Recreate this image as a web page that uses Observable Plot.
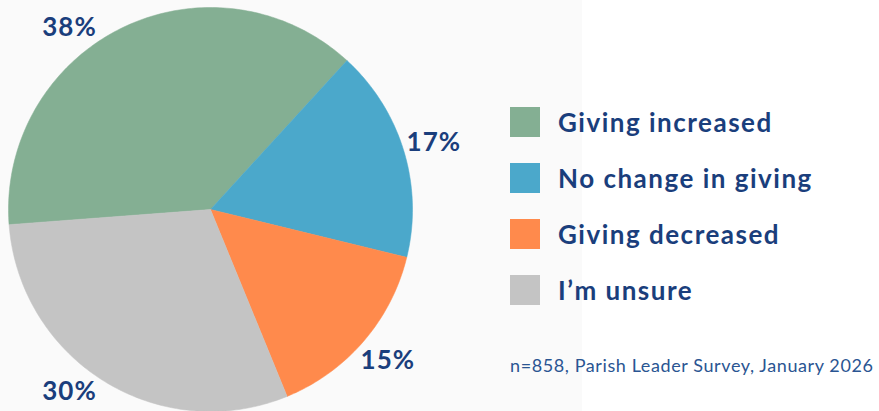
<!DOCTYPE html>
<html>
<head>
<meta charset="utf-8">
<script src="https://cdn.jsdelivr.net/npm/d3@7"></script>
<script src="https://cdn.jsdelivr.net/npm/@observablehq/plot@0.6"></script>
<style>
  html, body { margin: 0; padding: 0; background: #ffffff; }
  #wrap { position: relative; width: 879px; height: 411px; overflow: hidden; font-family: Lato, "Noto Sans", sans-serif; }
  #panel { position: absolute; left: 0; top: 0; width: 582px; height: 411px; background: #fafafa; }
  #chart { position: absolute; left: 0; top: 0; }
  #legend { position: absolute; left: 510px; top: 107px; }
  .row { display: flex; align-items: center; height: 30px; margin-bottom: 26px; }
  .sw { width: 30px; height: 30px; flex: none; }
  .lab { margin-left: 18px; font-size: 26px; font-weight: 700; color: #1a3e7c; white-space: nowrap; line-height: 30px; letter-spacing: 1.5px; }
  #caption { position: absolute; left: 510px; top: 354px; font-size: 18px; color: #2a5592; white-space: nowrap; line-height: 22px; letter-spacing: 0.6px; }
</style>
</head>
<body>
<div id="wrap">
  <div id="panel"></div>
  <div id="chart"></div>
  <div id="legend"></div>
  <div id="caption"></div>
</div>
<script>
// ---- data ----
const categories = ["Giving increased", "No change in giving", "Giving decreased", "I\u2019m unsure"];
const percents = [38, 17, 15, 30];
const colors = ["#84af93", "#4ba8cb", "#ff8a4c", "#c4c4c4"];
const caption = "n=858, Parish Leader Survey, January 2026";

// ---- geometry (derived from data) ----
const R = 202;
const startDeg = -94.3;               // first slice start, clockwise from 12 o'clock
const total = d3.sum(percents);
const slicePts = [];
const labels = [];
let acc = 0;
categories.forEach((cat, i) => {
  const a0 = startDeg + acc / total * 360;
  acc += percents[i];
  const a1 = startDeg + acc / total * 360;
  const toXY = (deg, r) => {
    const t = deg * Math.PI / 180;
    return [r * Math.sin(t), r * Math.cos(t)];
  };
  slicePts.push({cat, x: 0, y: 0});
  const n = Math.max(2, Math.ceil(a1 - a0));
  for (let k = 0; k <= n; k++) {
    const [x, y] = toXY(a0 + (a1 - a0) * k / n, R);
    slicePts.push({cat, x, y});
  }
  slicePts.push({cat, x: 0, y: 0});
  // label at mid angle on an outer circle, kept inside the vertical extent
  const lr = R * 1.145, ymax = R * 0.9;
  let [lx, ly] = toXY((a0 + a1) / 2, lr);
  if (Math.abs(ly) > ymax) {
    ly = Math.sign(ly) * ymax;
    lx = Math.sign(lx) * Math.sqrt(lr * lr - ly * ly);
  }
  labels.push({cat, x: lx, y: ly, text: percents[i] + "%"});
});

const chart = Plot.plot({
  width: 460,
  height: 411,
  margin: 0,
  style: {background: "transparent", overflow: "visible"},
  x: {domain: [-210, 250], axis: null},
  y: {domain: [-202, 209], axis: null},
  color: {domain: categories, range: colors},
  marks: [
    Plot.line(slicePts, {x: "x", y: "y", z: "cat", fill: "cat", stroke: "cat", strokeWidth: 0.5, curve: "linear"}),
    Plot.text(labels, {x: "x", y: "y", dx: 2, text: "text", fill: "#1a3e7c", fontSize: 26, fontWeight: 700, fontFamily: "Lato, 'Noto Sans', sans-serif"})
  ]
});
chart.querySelectorAll("text").forEach(t => t.style.letterSpacing = "1px");
document.getElementById("chart").appendChild(chart);

// ---- legend (HTML) ----
const legend = document.getElementById("legend");
categories.forEach((cat, i) => {
  const row = document.createElement("div");
  row.className = "row";
  const sw = document.createElement("div");
  sw.className = "sw";
  sw.style.background = colors[i];
  const lab = document.createElement("div");
  lab.className = "lab";
  lab.textContent = cat;
  row.appendChild(sw);
  row.appendChild(lab);
  legend.appendChild(row);
});
document.getElementById("caption").textContent = caption;
</script>
</body>
</html>
